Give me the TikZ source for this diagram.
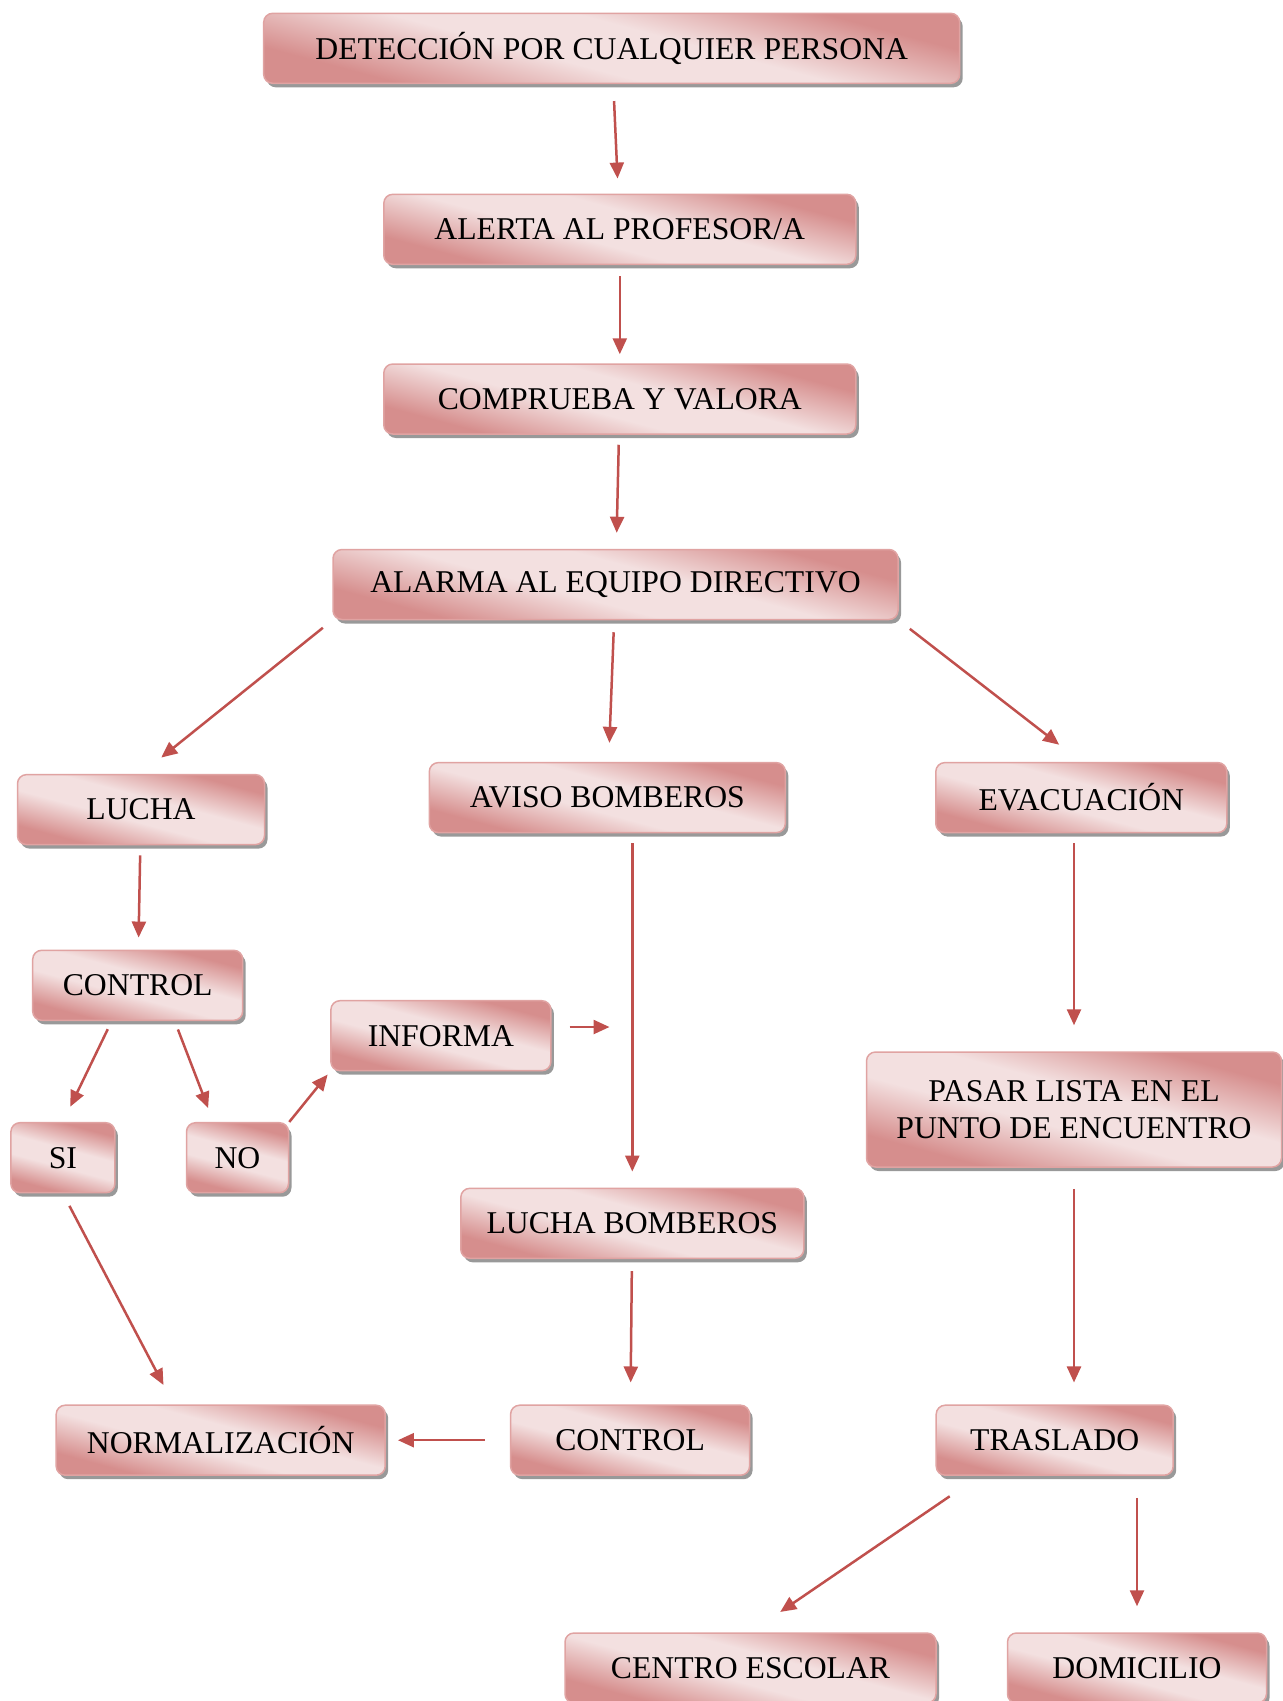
\documentclass[tikz,border=0pt]{standalone}
\usepackage{fontspec}
\setmainfont{Liberation Serif}
\usepackage{tikz}
\usepackage{xcolor}
\usetikzlibrary{positioning,shadows,arrows.meta}

\definecolor{rosa-dk}{HTML}{D68E8D}
\definecolor{rosa-lt}{HTML}{F3E0E0}
\definecolor{rosa-ln}{HTML}{E0A3A2}
\definecolor{flecha}{HTML}{C0504D}

\pgfdeclarehorizontalshading{rosa-degr}{100bp}{color(0bp)=(rosa-dk); color(28bp)=(rosa-dk);
  color(44bp)=(rosa-lt); color(56bp)=(rosa-lt); color(72bp)=(rosa-dk); color(100bp)=(rosa-dk)}

\begin{document}
\begin{tikzpicture}
[
x=1pt, y=-1pt,
box-a/.style={rectangle, rounded corners=9pt, draw=rosa-ln, line width=1.5pt,
  shade, shading=rosa-degr, shading angle=75,
  drop shadow={shadow xshift=3pt, shadow yshift=-4pt, fill=black!40, opacity=1},
  minimum height=70pt, inner sep=0pt, align=center,
  font=\fontsize{31.7}{37}\selectfont},
arrow-a/.style={draw=flecha, line width=2.5pt, -{Triangle[length=16pt,width=14pt]}}
]
\useasboundingbox (0,0) rectangle (1283,1701);

% column of the first steps
\node (det)       [box-a, minimum width=696pt] at (611.7,48.3)  {DETECCIÓN POR CUALQUIER PERSONA};
\node (alerta)    [box-a, minimum width=472pt] at (619.8,229.3) {ALERTA AL PROFESOR/A};
\node (valora)    [box-a, minimum width=472pt] at (619.8,399)   {COMPRUEBA Y VALORA};
\node (alarma)    [box-a, minimum width=565pt] at (615.5,584.5) {ALARMA AL EQUIPO DIRECTIVO};

% three branches
\node (lucha)     [box-a, minimum width=247pt] at (141,809.6)    {LUCHA};
\node (aviso)     [box-a, minimum width=356pt] at (607.3,797.6)  {AVISO BOMBEROS};
\node (evac)      [box-a, minimum width=291pt] at (1081.3,797.6) {EVACUACIÓN};
\node (ctrl-1)    [box-a, minimum width=210pt] at (137.7,985.3)  {CONTROL};
\node (informa)   [box-a, minimum width=220pt] at (440.9,1035.7) {INFORMA};
\node (si)        [box-a, minimum width=104pt] at (62.9,1157.7)  {SI};
\node (no)        [box-a, minimum width=102pt] at (237.5,1157.7) {NO};
\node (lista)     [box-a, minimum width=415pt, minimum height=115pt] at (1074,1109.5)
                  {PASAR LISTA EN EL\\PUNTO DE ENCUENTRO};
\node (lucha-b)   [box-a, minimum width=343pt] at (632.3,1223.3) {LUCHA BOMBEROS};
\node (norm)      [box-a, minimum width=329pt] at (220.7,1440.2) {NORMALIZACIÓN};
\node (ctrl-2)    [box-a, minimum width=239pt] at (630.1,1440.2) {CONTROL};
\node (traslado)  [box-a, minimum width=237pt] at (1054.7,1440.2) {TRASLADO};
\node (centro)    [box-a, minimum width=371pt] at (750.5,1668)   {CENTRO ESCOLAR};
\node (domicilio) [box-a, minimum width=259pt] at (1137,1668)    {DOMICILIO};

\coordinate (bomb-flecha) at (609.5,1027);

% arrows
\draw[arrow-a, shorten <=17pt, shorten >=15pt] (det) -- (alerta);
\draw[arrow-a, shorten <=11pt, shorten >=9pt]  (alerta) -- (valora);
\draw[arrow-a, shorten <=10pt, shorten >=16pt] (valora) -- (alarma);
\draw[arrow-a, shorten <=12pt, shorten >=26pt] (alarma.south west) -- (lucha.north);
\draw[arrow-a, shorten <=12pt, shorten >=19pt] (alarma) -- (aviso);
\draw[arrow-a, shorten <=14pt, shorten >=28pt] (alarma.south east) -- (evac.north);
\draw[arrow-a, shorten <=10pt, shorten >=12pt] (lucha) -- (ctrl-1);
\draw[arrow-a, shorten <=9pt,  shorten >=17pt] ([xshift=-26pt]ctrl-1.south) -- (si.north);
\draw[arrow-a, shorten <=9pt,  shorten >=15pt] ([xshift=37pt]ctrl-1.south) -- ([xshift=-24pt]no.north);
\draw[arrow-a, shorten >=4pt]                  (no.north east) -- (informa.south west);
\draw[arrow-a, shorten <=18pt]                 (informa.east |- bomb-flecha) -- (bomb-flecha);
\draw[arrow-a, shorten <=10pt, shorten >=16pt] (aviso.south -| lucha-b.north) -- (lucha-b.north);
\draw[arrow-a, shorten <=10pt, shorten >=26pt] (evac.south -| lista.north) -- (lista.north);
\draw[arrow-a, shorten <=14pt, shorten >=22pt] (si.south) -- ([xshift=-47pt]norm.north);
\draw[arrow-a, shorten <=12pt, shorten >=22pt] (lucha-b) -- (ctrl-2);
\draw[arrow-a, shorten <=25pt, shorten >=12pt] (ctrl-2) -- (norm);
\draw[arrow-a, shorten <=21pt, shorten >=22pt] (lista.south) -- (lista.south |- traslado.north);
\draw[arrow-a, shorten <=36pt, shorten >=36pt] ([xshift=44pt]traslado.south west) -- (centro.north);
\draw[arrow-a, shorten <=22pt, shorten >=26pt] (traslado.south -| domicilio.north) -- (domicilio.north);
\end{tikzpicture}
\end{document}
